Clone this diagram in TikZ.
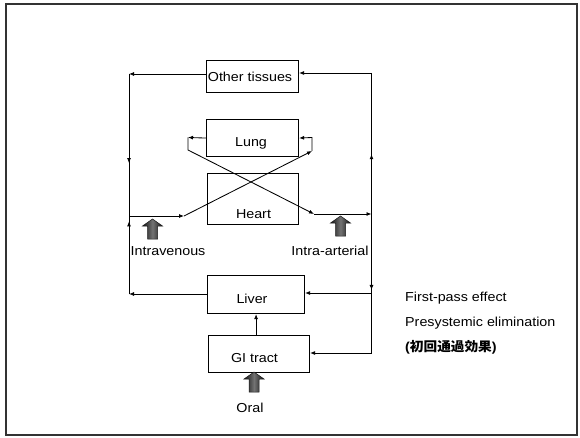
\documentclass[tikz,border=0pt]{standalone}
\usepackage{fontspec}
\setmainfont[FakeStretch=1.1]{Liberation Sans}
\newfontfamily\cjk[FakeStretch=1.05]{Noto Sans CJK JP}
\usetikzlibrary{arrows.meta,decorations.markings}
\begin{document}
\begin{tikzpicture}[x=1pt,y=-1pt,
  box/.style={draw, line width=1.1pt, inner sep=0pt, anchor=north west},
  lbl/.style={font=\fontsize{13}{15}\selectfont, inner sep=0pt, anchor=base},
  conn/.style={line width=0.85pt},
  arr/.style={conn, -{Latex[length=5pt,width=4pt]}},
  barrow/.pic={\shade[left color=black!92, right color=black!92, middle color=black!55, draw=black!90, line width=0.5pt]
     (0,0) -- (10,7) -- (5,7) -- (5,20) -- (-5,20) -- (-5,7) -- (-10,7) -- cycle;}
]
\useasboundingbox (0,0) rectangle (580,438);
\draw[line width=2.4pt, black!80] (6,4) rectangle (577,435);

% boxes
\node[box, minimum width=92pt, minimum height=32pt] (ot) at (206,60) {};
\node[box, minimum width=92pt, minimum height=37pt] (lung) at (206,119) {};
\node[box, minimum width=91pt, minimum height=51pt] (heart) at (207,173) {};
\node[box, minimum width=97pt, minimum height=38pt] (liver) at (207,275) {};
\node[box, minimum width=101pt, minimum height=37pt] (gi) at (208,335) {};

% box labels
\node[lbl] (tot) at (250,82) {Other tissues};
\node[lbl] (tlung) at (251,147) {Lung};
\node[lbl] (theart) at (253.5,218.5) {Heart};
\node[lbl] (tliver) at (252,303) {Liver};
\node[lbl] (tgi) at (254.5,362) {GI tract};

% coordinates
\coordinate (vTop) at (129,74);
\coordinate (vBot) at (129,294);
\coordinate (vH) at (129,216);
\coordinate (ivA) at (184,216);
\coordinate (rl1) at (312,151);
\coordinate (rl2) at (312,137.5);
\coordinate (ll1) at (188,137.5);
\coordinate (ll2) at (188,150);
\coordinate (iaA) at (314,214);
\coordinate (aH) at (371.5,214);
\coordinate (aTop) at (371.5,73);
\coordinate (aLiv) at (371.5,293);
\coordinate (aBot) at (371.5,353);

% venous line (left)
\draw[arr] (ot.west |- vTop) -- (vTop);
\draw[conn, postaction={decorate, decoration={markings,
   mark=at position 0.405 with {\arrow{Latex[length=5pt,width=4pt]}},
   mark=at position 0.67 with {\arrowreversed{Latex[length=5pt,width=4pt]}}}}]
   (vTop) -- (vBot);
\draw[arr] (liver.west |- vBot) -- (vBot);

% arterial line (right)
\draw[conn, postaction={decorate, decoration={markings,
   mark=at position 0.29 with {\arrowreversed{Latex[length=5pt,width=4pt]}},
   mark=at position 0.775 with {\arrow{Latex[length=5pt,width=4pt]}}}}]
   (aTop) -- (aBot);
\draw[arr] (aTop) -- (ot.east |- aTop);
\draw[arr] (aLiv) -- (liver.east |- aLiv);
\draw[arr] (aBot) -- (gi.east |- aBot);

% heart / lung crossing
\draw[arr] (vH) -- (ivA);
\draw[arr] (ivA) -- (rl1);
\draw[arr] (rl1) -- (rl2) -- (lung.east);
\draw[arr] (lung.west) -- (ll1);
\draw[arr] (ll1) -- (ll2) -- (iaA);
\draw[arr] (iaA) -- (aH);

% GI -> liver
\draw[arr] (liver.south |- gi.north) -- (liver.south);

% block arrows
\pic at (152.5,219) {barrow};
\pic at (340.5,216) {barrow};
\pic at (254,372) {barrow};

% route labels
\node[lbl] (iv) at (168,255) {Intravenous};
\node[lbl] (ia) at (330,255) {Intra-arterial};
\node[lbl] (oral) at (250,412) {Oral};

% right texts
\node[lbl, anchor=base west] (fp) at (405,301) {First-pass effect};
\node[lbl, anchor=base west] (pe) at (405,326) {Presystemic elimination};
\node[lbl, anchor=base west] (jp) at (405,351) {\textbf{(}{\cjk\bfseries 初回通過効果}\textbf{)}};
\end{tikzpicture}
\end{document}
